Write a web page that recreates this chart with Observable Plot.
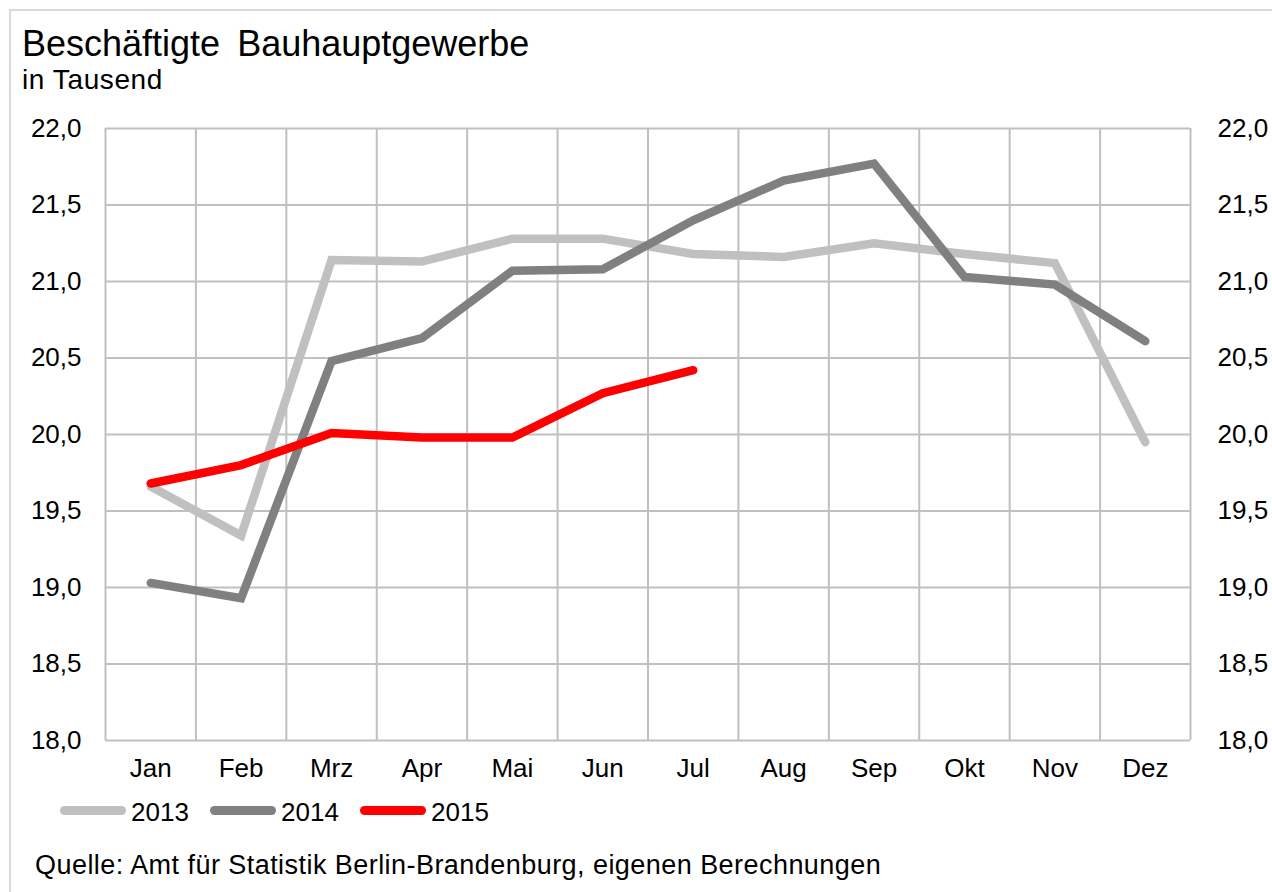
<!DOCTYPE html>
<html>
<head>
<meta charset="utf-8">
<script src="https://cdn.jsdelivr.net/npm/d3@7"></script>
<script src="https://cdn.jsdelivr.net/npm/@observablehq/plot@0.6"></script>
<style>
  html, body { margin: 0; padding: 0; background: #fff; }
  body { width: 1272px; height: 892px; overflow: hidden; font-family: "Liberation Sans", Arial, sans-serif; color: #000; }
  #wrap { position: relative; width: 1272px; height: 892px; }
  #frame { position: absolute; left: 9px; top: 9px; width: 1300px; height: 900px; border: 2px solid #d9d9d9; box-sizing: border-box; }
  .t { position: absolute; line-height: 1; white-space: nowrap; }
  #title { left: 22px; top: 26px; font-size: 36px; word-spacing: 7px; }
  #subtitle { left: 22px; top: 66px; font-size: 28px; letter-spacing: 0.6px; }
  #chart { position: absolute; left: 0; top: 100px; }
  .sw { position: absolute; height: 9px; width: 66px; border-radius: 5px; top: 806px; }
  .lg { top: 799px; font-size: 26px; }
  #caption { left: 35px; top: 852px; font-size: 27px; letter-spacing: 0.45px; }
</style>
</head>
<body>
<div id="wrap">
  <div id="frame"></div>
  <div class="t" id="title">Beschäftigte Bauhauptgewerbe</div>
  <div class="t" id="subtitle">in Tausend</div>
  <div id="chart"></div>
  <div id="legend"></div>
  <div class="t" id="caption">Quelle: Amt für Statistik Berlin-Brandenburg, eigenen Berechnungen</div>
</div>
<script>
const months = ["Jan","Feb","Mrz","Apr","Mai","Jun","Jul","Aug","Sep","Okt","Nov","Dez"];
const v2013 = [19.66, 19.34, 21.14, 21.13, 21.28, 21.28, 21.18, 21.16, 21.25, 21.18, 21.12, 19.95];
const v2014 = [19.03, 18.93, 20.48, 20.63, 21.07, 21.08, 21.40, 21.66, 21.77, 21.03, 20.98, 20.61];
const v2015 = [19.68, 19.80, 20.01, 19.98, 19.98, 20.27, 20.42];
const years = ["2013", "2014", "2015"];
const colors = ["#c0c0c0", "#808080", "#ff0000"];
const yTicks = [18.0, 18.5, 19.0, 19.5, 20.0, 20.5, 21.0, 21.5, 22.0];

const series = [v2013, v2014, v2015];
const rows = series.map(vals => vals.map((v, i) => ({m: i + 1, v})));
const monthIdx = months.map((_, i) => i + 1);
const bounds = d3.range(0.5, months.length + 1, 1);
const fmt = d => d.toFixed(1).replace(".", ",");

const lineMarks = rows.map((data, k) => Plot.line(data, {
  x: "m", y: "v", stroke: colors[k], strokeWidth: 8.5,
  strokeLinecap: "round", strokeLinejoin: "miter", strokeMiterlimit: 4
}));

const chart = Plot.plot({
  width: 1272,
  height: 700,
  marginTop: 28,
  marginBottom: 60,
  marginLeft: 105,
  marginRight: 82,
  style: { fontFamily: "Liberation Sans, Arial, sans-serif", background: "transparent", color: "#000", overflow: "visible" },
  x: { domain: [0.5, months.length + 0.5] },
  y: { domain: [18, 22] },
  marks: [
    Plot.ruleY(yTicks, { stroke: "#c0c0c0", strokeWidth: 2, strokeOpacity: 1 }),
    Plot.ruleX(bounds, { stroke: "#c0c0c0", strokeWidth: 2, strokeOpacity: 1 }),
    Plot.axisY({ anchor: "left", ticks: yTicks, tickSize: 0, tickPadding: 24, tickFormat: fmt, fontSize: 26, label: null }),
    Plot.axisY({ anchor: "right", ticks: yTicks, tickSize: 0, tickPadding: 27, tickFormat: fmt, fontSize: 26, label: null }),
    Plot.axisX({ ticks: monthIdx, tickSize: 0, tickPadding: 18, tickFormat: i => months[i - 1], fontSize: 26, label: null }),
    ...lineMarks
  ]
});
document.getElementById("chart").appendChild(chart);

const legend = document.getElementById("legend");
const swLeft = [60, 210, 360];
years.forEach((y, k) => {
  const sw = document.createElement("div");
  sw.className = "sw";
  sw.style.left = swLeft[k] + "px";
  sw.style.background = colors[k];
  legend.appendChild(sw);
  const t = document.createElement("div");
  t.className = "t lg";
  t.style.left = (swLeft[k] + 71) + "px";
  t.textContent = y;
  legend.appendChild(t);
});
</script>
</body>
</html>
